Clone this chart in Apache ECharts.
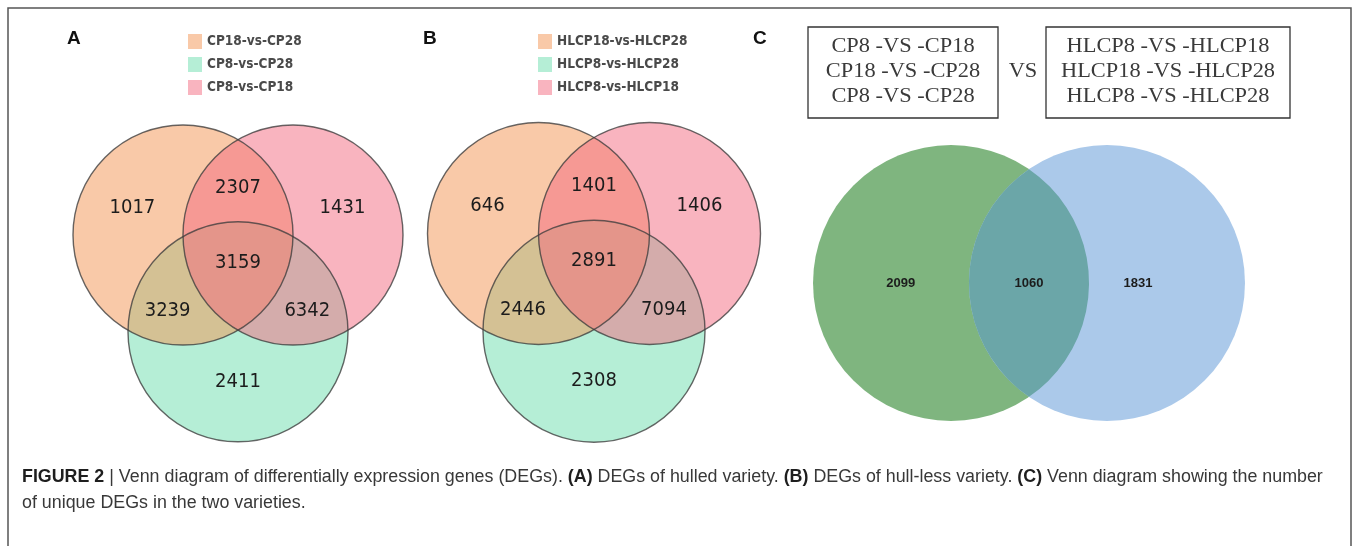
<!DOCTYPE html>
<html>
<head>
<meta charset="utf-8">
<script src="https://cdn.jsdelivr.net/npm/echarts@6/dist/echarts.min.js"></script>
<style>
html, body { margin: 0; padding: 0; background: #fff; }
#chart { width: 1358px; height: 546px; }
</style>
</head>
<body>
<div id="chart"></div>
<script>
// ---- data ----
// Three-set panels: set order is [first, second, third]
const setsA = ['CP18-vs-CP28', 'CP8-vs-CP28', 'CP8-vs-CP18'];
const setsB = ['HLCP18-vs-HLCP28', 'HLCP8-vs-HLCP28', 'HLCP8-vs-HLCP18'];
// Region keys (1 = first set, 2 = second set, 3 = third set)
const regions3 = ['1', '13', '3', '123', '12', '23', '2'];
const countsA = [1017, 2307, 1431, 3159, 3239, 6342, 2411];
const countsB = [646, 1401, 1406, 2891, 2446, 7094, 2308];
// Two-set panel: hulled only, shared, hull-less only
const regions2 = ['hulled', 'shared', 'hull-less'];
const countsC = [2099, 1060, 1831];
const groupC1 = ['CP8-VS-CP18', 'CP18-VS-CP28', 'CP8-VS-CP28'];
const groupC2 = ['HLCP8-VS-HLCP18', 'HLCP18-VS-HLCP28', 'HLCP8-VS-HLCP28'];

// ---- layout (in circle-radius units) ----
const centers3 = [[-0.5, 0.3], [0, -0.58], [0.5, 0.3]];
const anchors3 = [[-0.96, 0.55], [0, 0.73], [0.95, 0.55], [0, 0.05], [-0.64, -0.39], [0.63, -0.39], [0, -1.03]];
const centers2 = [[-0.565, 0], [0.565, 0]];
const anchors2 = [[-0.93, 0], [0, 0], [0.79, 0]];

// ---- styles ----
const fill3 = ['rgba(243,147,81,0.5)', 'rgba(107,221,173,0.5)', 'rgba(243,105,127,0.5)'];
const drawOrder3 = [1, 0, 2];
const fill2 = ['#7fb57f', '#abc9ea'];
const lensColor = '#6ba6a8';
const numFont = '"DejaVu Sans Condensed", "DejaVu Sans", sans-serif';
const serif = '"Liberation Serif", serif';
const sans = '"Liberation Sans", Arial, sans-serif';

const chart = echarts.init(document.getElementById('chart'), null, { renderer: 'canvas' });

function axisPair(idx, lim) {
  return {
    x: { type: 'value', gridIndex: idx, min: -lim, max: lim, show: false },
    y: { type: 'value', gridIndex: idx, min: -lim, max: lim, show: false }
  };
}
const axA = axisPair(0, 2), axB = axisPair(1, 2), axC = axisPair(2, 1.8);

function circleSeries(name, gridIdx, center, style, z) {
  return {
    type: 'custom', name: name, xAxisIndex: gridIdx, yAxisIndex: gridIdx, z: z,
    silent: true, animation: false,
    data: [[center[0], center[1], 1]],
    renderItem: function (params, api) {
      const c = api.coord([api.value(0), api.value(1)]);
      const r = api.size([api.value(2), 0])[0];
      return { type: 'circle', shape: { cx: c[0], cy: c[1], r: r }, style: style };
    }
  };
}

function labelSeries(gridIdx, anchors, counts, textStyle) {
  return {
    type: 'custom', xAxisIndex: gridIdx, yAxisIndex: gridIdx, z: 10,
    silent: true, animation: false,
    data: anchors.map((a, i) => [a[0], a[1], counts[i]]),
    renderItem: function (params, api) {
      const c = api.coord([api.value(0), api.value(1)]);
      return {
        type: 'text', x: c[0], y: c[1],
        style: Object.assign({ text: String(api.value(2)), align: 'center', verticalAlign: 'middle' }, textStyle)
      };
    }
  };
}

function venn3Series(gridIdx, sets, counts) {
  const out = [];
  drawOrder3.forEach((k, i) => {
    out.push(circleSeries(sets[k], gridIdx, centers3[k], { fill: fill3[k] }, 1 + i));
  });
  centers3.forEach((c) => {
    out.push(circleSeries('', gridIdx, c, { fill: 'none', stroke: 'rgba(60,60,60,0.78)', lineWidth: 1.4 }, 5));
  });
  out.push(labelSeries(gridIdx, anchors3, counts, { fontSize: 20, fontFamily: numFont, fill: '#1c1c1c' }));
  return out;
}

// Lens-shaped overlap of the two equal circles
const lensSeries = {
  type: 'custom', xAxisIndex: 2, yAxisIndex: 2, z: 4, silent: true, animation: false,
  data: [[centers2[0][0], centers2[0][1], centers2[1][0], centers2[1][1], 1]],
  renderItem: function (params, api) {
    const a = api.coord([api.value(0), api.value(1)]);
    const b = api.coord([api.value(2), api.value(3)]);
    const r = api.size([api.value(4), 0])[0];
    const mx = (a[0] + b[0]) / 2, my = (a[1] + b[1]) / 2;
    const d = Math.hypot(b[0] - a[0], b[1] - a[1]);
    const h = Math.sqrt(r * r - (d / 2) * (d / 2));
    const p = 'M ' + mx + ' ' + (my - h) + ' A ' + r + ' ' + r + ' 0 0 1 ' + mx + ' ' + (my + h) +
              ' A ' + r + ' ' + r + ' 0 0 1 ' + mx + ' ' + (my - h) + ' Z';
    return { type: 'path', shape: { pathData: p }, style: { fill: lensColor } };
  }
};

const legendText = { fontSize: 13.5, fontWeight: 'bold', color: '#4a4a4a', fontFamily: numFont };
function legendFor(sets, left) {
  return {
    data: sets.map((n, i) => ({ name: n, itemStyle: { color: fill3[i], opacity: 1 } })),
    orient: 'vertical', left: left, top: 34, itemWidth: 14, itemHeight: 15, itemGap: 8,
    icon: 'rect', selectedMode: false, textStyle: legendText, padding: 0
  };
}

const capSize = 17.85;
const captionRich = {
  b: { fontWeight: 'bold', fill: '#1e1e1e', fontSize: capSize, fontFamily: sans },
  n: { fill: '#383838', fontSize: capSize, fontFamily: sans }
};

const boxText = { fontSize: 20, fontFamily: serif, fill: '#3a3a3a', align: 'center', verticalAlign: 'middle' };
function boxLines(list, cx) {
  return list.map((t, i) => ({
    type: 'text', x: cx, y: 47 + i * 25, scaleX: 1.12,
    style: Object.assign({ text: t.replace(/-VS-/, ' -VS -') }, boxText)
  }));
}

const option = {
  backgroundColor: '#fff',
  animation: false,
  grid: [
    { left: 18, top: 48, width: 440, height: 440 },
    { left: 372, top: 44.8, width: 444, height: 444 },
    { left: 780.6, top: 34.6, width: 496.8, height: 496.8 }
  ],
  xAxis: [axA.x, axB.x, axC.x],
  yAxis: [axA.y, axB.y, axC.y],
  legend: [legendFor(setsA, 188), legendFor(setsB, 538)],
  series: [].concat(
    venn3Series(0, setsA, countsA),
    venn3Series(1, setsB, countsB),
    [
      circleSeries('hulled', 2, centers2[0], { fill: fill2[0] }, 1),
      circleSeries('hull-less', 2, centers2[1], { fill: fill2[1] }, 2),
      lensSeries,
      labelSeries(2, anchors2, countsC, { fontSize: 13, fontWeight: 'bold', fontFamily: sans, fill: '#1c1c1c' })
    ]
  ),
  graphic: [
    { type: 'rect', shape: { x: 8, y: 8, width: 1343, height: 560 }, style: { fill: 'none', stroke: '#555', lineWidth: 1.5 }, z: 0 },
    { type: 'text', x: 67, y: 39, style: { text: 'A', fontSize: 19, fontWeight: 'bold', fontFamily: sans, fill: '#111', verticalAlign: 'middle' } },
    { type: 'text', x: 423, y: 39, style: { text: 'B', fontSize: 19, fontWeight: 'bold', fontFamily: sans, fill: '#111', verticalAlign: 'middle' } },
    { type: 'text', x: 753, y: 39, style: { text: 'C', fontSize: 19, fontWeight: 'bold', fontFamily: sans, fill: '#111', verticalAlign: 'middle' } },
    { type: 'rect', shape: { x: 808, y: 27, width: 190, height: 91 }, style: { fill: 'none', stroke: '#333', lineWidth: 1.3 } },
    { type: 'rect', shape: { x: 1046, y: 27, width: 244, height: 91 }, style: { fill: 'none', stroke: '#333', lineWidth: 1.3 } },
    { type: 'text', x: 1023, y: 72, scaleX: 1.12, style: Object.assign({ text: 'VS' }, boxText) }
  ].concat(boxLines(groupC1, 903), boxLines(groupC2, 1168), [
    { type: 'text', x: 22, y: 477, style: {
        text: '{b|FIGURE 2} {n|| Venn diagram of differentially expression genes (DEGs).} {b|(A)} {n|DEGs of hulled variety.} {b|(B)} {n|DEGs of hull-less variety.} {b|(C)} {n|Venn diagram showing the number}',
        rich: captionRich, verticalAlign: 'middle', fontSize: capSize, fontFamily: sans } },
    { type: 'text', x: 22, y: 503, style: {
        text: 'of unique DEGs in the two varieties.', fill: '#383838', verticalAlign: 'middle', fontSize: capSize, fontFamily: sans } }
  ])
};

chart.setOption(option);
</script>
</body>
</html>
